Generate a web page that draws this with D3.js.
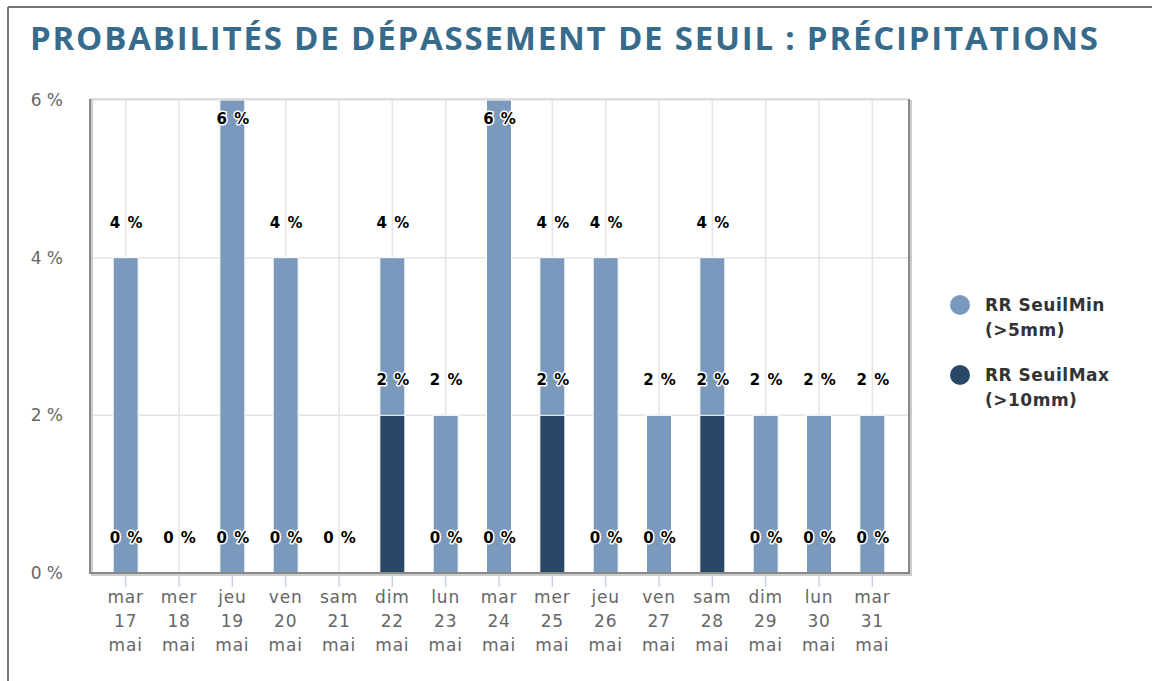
<!DOCTYPE html>
<html>
<head>
<meta charset="utf-8">
<script src="https://cdn.jsdelivr.net/npm/d3@7"></script>
<style>
  body { margin: 0; background: #fff; }
  svg { display: block; }
  .dlabel { font-family: "DejaVu Sans", Verdana, sans-serif; font-weight: bold; font-size: 15px; letter-spacing: 1px;
            fill: #000; stroke: #fff; stroke-width: 3px; paint-order: stroke; stroke-linejoin: round; }
</style>
</head>
<body>
<svg id="chart" width="1152" height="681"></svg>
<script>
let days = ['mar','mer','jeu','ven','sam','dim','lun','mar','mer','jeu','ven','sam','dim','lun','mar']
let dates = ['17','18','19','20','21','22','23','24','25','26','27','28','29','30','31']
let month = 'mai'
let seuilMin = [4,0,6,4,0,4,2,6,4,4,2,4,2,2,2]
let seuilMax = [0,0,0,0,0,2,0,0,2,0,0,2,0,0,0]
let yTicks = [0,2,4,6]
let seriesNames = [['RR SeuilMin','(>5mm)'], ['RR SeuilMax','(>10mm)']]
let colors = ['#7b99bc', '#2b4768']

let svg = d3.select('svg')
let plotLeft = 90, plotRight = 909, plotTop = 99, plotBottom = 573

// outer frame
svg.append('line').attr('x1', 8).attr('x2', 8).attr('y1', 7).attr('y2', 681)
    .attr('stroke', '#777').attr('stroke-width', 2)
svg.append('line').attr('x1', 8).attr('x2', 1152).attr('y1', 7).attr('y2', 7)
    .attr('stroke', '#777').attr('stroke-width', 2)

let titleText = 'PROBABILITÉS DE DÉPASSEMENT DE SEUIL : PRÉCIPITATIONS'
let title = svg.append('text')
    .attr('x', 30).attr('y', 50)
    .attr('fill', '#376b8c')
    .style('font-family', '"Open Sans", sans-serif')
    .style('font-weight', 700)
    .style('font-size', '33px')
    .text(titleText)
let tw = title.node().getComputedTextLength()
if (tw < 1068) title.style('letter-spacing', ((1068 - tw) / (titleText.length - 1)) + 'px')
else title.style('font-size', (33 * 1068 / tw) + 'px')

let idx = d3.range(days.length)
let x = d3.scaleBand()
    .domain(idx)
    .range([99, 899])
let y = d3.scaleLinear()
    .domain([0, 6])
    .range([plotBottom, plotTop + 1])
let cx = i => x(i) + x.bandwidth()/2

// grid
svg.append('g').selectAll('line')
    .data(yTicks)
    .enter().append('line')
    .attr('x1', plotLeft).attr('x2', plotRight)
    .attr('y1', d=>y(d)).attr('y2', d=>y(d))
    .attr('stroke', '#e4e4e4').attr('stroke-width', 1.5)
svg.append('g').selectAll('line')
    .data(idx)
    .enter().append('line')
    .attr('x1', cx).attr('x2', cx)
    .attr('y1', plotTop).attr('y2', plotBottom)
    .attr('stroke', '#e4e4e4').attr('stroke-width', 1.5)

// bars (overlapping, dark in front)
let bw = 25
let series = [seuilMin, seuilMax]
series.forEach((s, k) => {
    svg.append('g').selectAll('rect')
        .data(s)
        .enter().append('rect')
        .attr('x', (d,i)=>cx(i) - bw/2)
        .attr('width', bw)
        .attr('y', d=>y(d))
        .attr('height', d=>plotBottom - y(d))
        .attr('fill', colors[k])
        .attr('stroke', '#fff').attr('stroke-width', d=>d > 0 ? 1 : 0)
})

// plot border
svg.append('line').attr('x1', plotLeft).attr('x2', plotRight).attr('y1', plotTop).attr('y2', plotTop)
    .attr('stroke', '#ddd').attr('stroke-width', 2)
svg.append('path')
    .attr('d', `M${plotLeft+2},${plotTop}V${plotBottom+2}H${plotRight+2}V${plotTop+1}`)
    .attr('fill', 'none').attr('stroke', '#ccc').attr('stroke-width', 2)
svg.append('path')
    .attr('d', `M${plotLeft},${plotTop}V${plotBottom}H${plotRight}V${plotTop}`)
    .attr('fill', 'none').attr('stroke', '#888').attr('stroke-width', 2)

// x ticks
svg.append('g').selectAll('line')
    .data(idx)
    .enter().append('line')
    .attr('x1', cx).attr('x2', cx)
    .attr('y1', plotBottom + 3).attr('y2', plotBottom + 14)
    .attr('stroke', '#c8d4e6').attr('stroke-width', 1.5)

// x labels
let xl = svg.append('g').selectAll('text')
    .data(idx)
    .enter().append('text')
    .attr('text-anchor', 'middle')
    .attr('fill', '#666')
    .style('font-family', '"DejaVu Sans", sans-serif')
    .style('font-size', '17px')
    .style('letter-spacing', '0.8px')
xl.append('tspan').attr('x', cx).attr('y', 603).text(d=>days[d])
xl.append('tspan').attr('x', cx).attr('y', 627).text(d=>dates[d])
xl.append('tspan').attr('x', cx).attr('y', 651).text(month)

// y labels
svg.append('g').selectAll('text')
    .data(yTicks)
    .enter().append('text')
    .attr('x', 63).attr('y', d=>y(d) + 6)
    .attr('text-anchor', 'end')
    .attr('fill', '#666')
    .style('font-family', '"DejaVu Sans", sans-serif')
    .style('font-size', '17px')
    .text(d=>d + ' %')

// data labels
series.forEach((s, k) => {
    svg.append('g').selectAll('text')
        .data(s)
        .enter().append('text')
        .attr('class', 'dlabel')
        .attr('x', (d,i)=>cx(i) + 1)
        .attr('y', d=>Math.max(y(d) - 30, plotTop + 25))
        .attr('text-anchor', 'middle')
        .text(d=>d + ' %')
})

// legend
let leg = svg.append('g').selectAll('g')
    .data(seriesNames)
    .enter().append('g')
    .attr('transform', (d,i)=>`translate(960, ${305 + i*70})`)
leg.append('circle').attr('r', 10).attr('fill', (d,i)=>colors[i])
let lt = leg.append('text')
    .attr('fill', '#333')
    .style('font-family', '"DejaVu Sans", sans-serif')
    .style('font-weight', 'bold')
    .style('font-size', '17px')
    .style('letter-spacing', '0.5px')
lt.append('tspan').attr('x', 25).attr('y', 6).text(d=>d[0])
lt.append('tspan').attr('x', 25).attr('y', 31).text(d=>d[1])
</script>
</body>
</html>
